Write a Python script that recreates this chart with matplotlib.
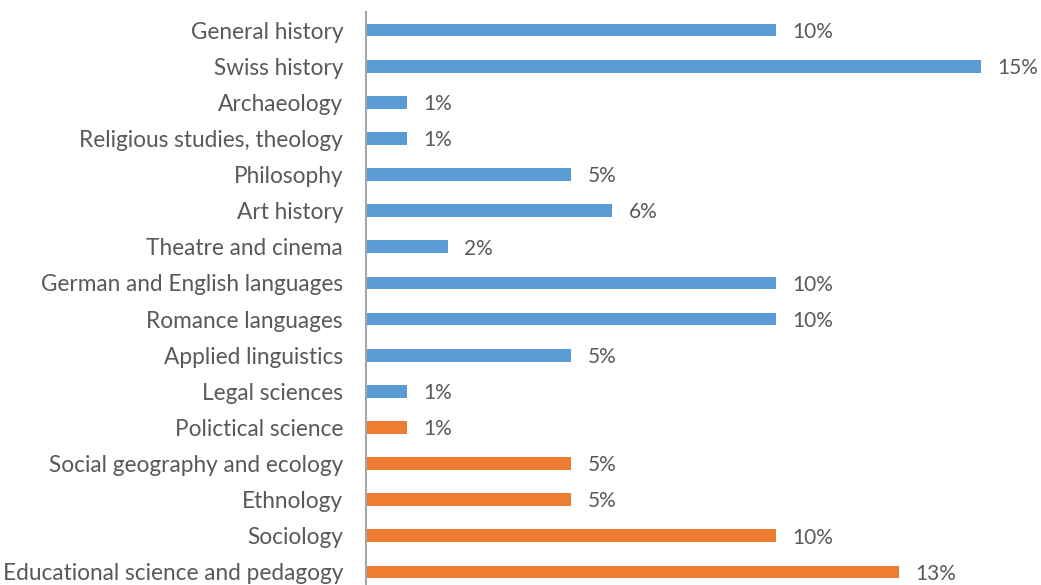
import matplotlib
matplotlib.use("Agg")
import matplotlib.pyplot as plt

categories = ["General history", "Swiss history", "Archaeology", "Religious studies, theology",
              "Philosophy", "Art history", "Theatre and cinema", "German and English languages",
              "Romance languages", "Applied linguistics", "Legal sciences", "Polictical science",
              "Social geography and ecology", "Ethnology", "Sociology", "Educational science and pedagogy"]
values = [10, 15, 1, 1, 5, 6, 2, 10, 10, 5, 1, 1, 5, 5, 10, 13]
groups = ["h"] * 11 + ["s"] * 5
group_colors = {"h": "#5B9BD5", "s": "#ED7D31"}

plt.rcParams['font.family'] = ['Lato', 'DejaVu Sans']
W, H = 1041, 585
fig = plt.figure(figsize=(W / 100, H / 100), dpi=100)
ax = fig.add_axes([366 / W, (585 - 590) / H, 656 / W, 578 / H])

n = len(categories)
ypos = list(range(n))
ax.barh(ypos, values, height=0.35, color=[group_colors[g] for g in groups])
ax.set_xlim(0, 16)
ax.set_ylim(n - 0.5, -0.5)
ax.set_yticks(ypos)
ax.set_yticklabels(categories, fontsize=16.3, color="#595959")
ax.tick_params(axis="y", length=0, pad=16.5)
ax.set_xticks([])
for s in ["top", "right", "bottom"]:
    ax.spines[s].set_visible(False)
ax.spines["left"].set_color("#A6A6A6")
ax.spines["left"].set_linewidth(1.5)
for y, v in zip(ypos, values):
    ax.text(v + 0.4, y + 0.05, f"{v}%", va="center", ha="left", fontsize=15, color="#595959")

fig.savefig("out.png", dpi=100)
